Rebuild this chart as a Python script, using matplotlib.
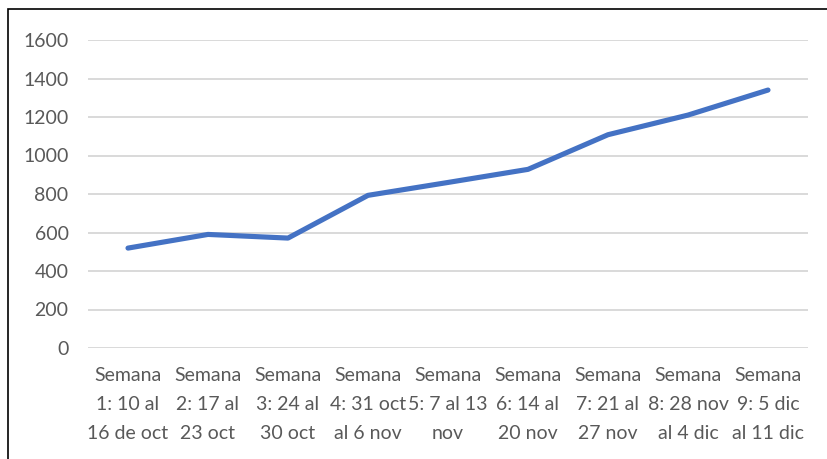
import matplotlib
matplotlib.use('Agg')
import matplotlib.pyplot as plt
from matplotlib.patches import Rectangle

semanas = ['Semana\n1: 10 al\n16 de oct', 'Semana\n2: 17 al\n23 oct', 'Semana\n3: 24 al\n30 oct',
           'Semana\n4: 31 oct\nal 6 nov', 'Semana\n5: 7 al 13\nnov', 'Semana\n6: 14 al\n20 nov',
           'Semana\n7: 21 al\n27 nov', 'Semana\n8: 28 nov\nal 4 dic', 'Semana\n9: 5 dic\nal 11 dic']
valores = [519, 590, 571, 793, 860, 928, 1108, 1210, 1340]
yticks = [0, 200, 400, 600, 800, 1000, 1200, 1400, 1600]

plt.rcParams['font.family'] = ['Lato', 'DejaVu Sans']

fig = plt.figure(figsize=(8.27, 4.59), dpi=100)
ax = fig.add_axes([88/827, 111/459, 720/827, 308/459])

x = list(range(len(valores)))
ax.plot(x, valores, color='#4472C4', linewidth=3.7, solid_capstyle='round', solid_joinstyle='round', zorder=3)

ax.set_xlim(-0.5, len(valores) - 0.5)
ax.set_ylim(0, 1600)
ax.set_yticks(yticks)
ax.set_xticks(x)
ax.set_xticklabels(semanas, linespacing=1.85)
ax.grid(axis='y', color='#D9D9D9', linewidth=1.4)
ax.set_axisbelow(True)
for s in ax.spines.values():
    s.set_visible(False)
ax.tick_params(axis='both', length=0, colors='#595959', labelsize=14)
ax.tick_params(axis='y', pad=14)
ax.tick_params(axis='x', pad=14)

fig.patches.append(Rectangle((8/827, -0.1), 1.2, 450/459 + 0.1, transform=fig.transFigure,
                             fill=False, edgecolor='black', linewidth=1.2))

fig.savefig('out.png', dpi=100)
